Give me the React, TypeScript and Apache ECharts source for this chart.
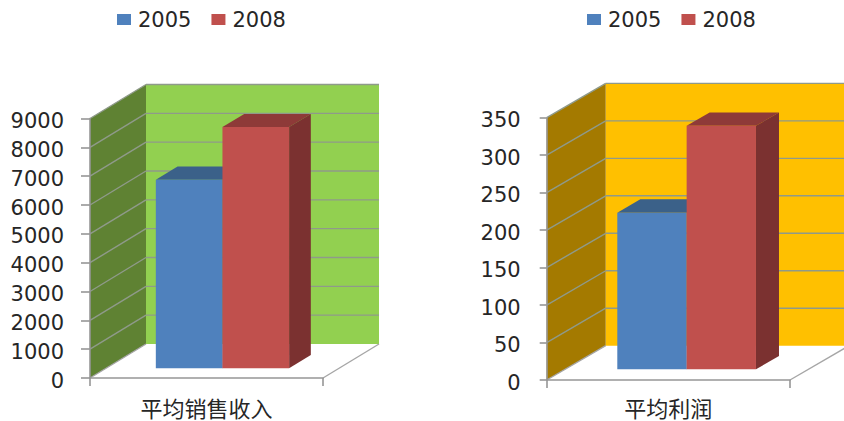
import React, { useEffect, useRef } from "react";
import * as echarts from "echarts";

const seriesNames = ["2005", "2008"];
const salesCategories = ["平均销售收入"];
const sales2005 = [6540];
const sales2008 = [8365];
const salesTicks = [0, 1000, 2000, 3000, 4000, 5000, 6000, 7000, 8000, 9000];
const profitCategories = ["平均利润"];
const profit2005 = [209];
const profit2008 = [325];
const profitTicks = [0, 50, 100, 150, 200, 250, 300, 350];

const BLUE = { front: "#4f81bd", top: "#3b6189", side: "#3b6189" };
const RED = { front: "#c0504d", top: "#8e3a38", side: "#7b3130" };
const GRID_LINE = "#8f9a8a";
const TEXT = "#262626";
const FONT = "'DejaVu Sans', 'Noto Sans CJK SC', sans-serif";

type View = { dx: number; dy: number; front: number; depth: number; barFrac: number };

function wallRenderer(ticks: number[], view: View, back: string, side: string) {
  return (_p: any, api: any) => {
    const band = api.size([1, 0])[0];
    const c0 = api.coord([0, 0]);
    const l = c0[0] - band / 2;
    const r = c0[0] + band / 2;
    const y0 = c0[1];
    const max = ticks[ticks.length - 1];
    const yT = api.coord([0, max])[1];
    const { dx, dy } = view;
    const line = (x1: number, y1: number, x2: number, y2: number, color = GRID_LINE, width = 1.4) => ({
      type: "line",
      shape: { x1, y1, x2, y2 },
      style: { stroke: color, lineWidth: width },
      silent: true,
    });
    const children: any[] = [
      {
        type: "polygon",
        shape: { points: [[l + dx, yT - dy], [r + dx, yT - dy], [r + dx, y0 - dy], [l + dx, y0 - dy]] },
        style: { fill: back },
        silent: true,
      },
      {
        type: "polygon",
        shape: { points: [[l, yT], [l + dx, yT - dy], [l + dx, y0 - dy], [l, y0]] },
        style: { fill: side },
        silent: true,
      },
    ];
    ticks.forEach((t) => {
      const y = api.coord([0, t])[1];
      if (t !== 0) {
        children.push(line(l, y, l + dx, y - dy));
        children.push(line(l + dx, y - dy, r + dx, y - dy));
      }
    });
    children.push(line(l, y0, l + dx, y0 - dy, "#a6a6a6"));
    children.push(line(r, y0, r + dx, y0 - dy, "#a6a6a6"));
    return { type: "group", children };
  };
}

function barRenderer(slot: number, view: View, colors: typeof BLUE) {
  return (_p: any, api: any) => {
    const value = api.value(1);
    const band = api.size([1, 0])[0];
    const base = api.coord([api.value(0), 0]);
    const top = api.coord([api.value(0), value]);
    const width = band * view.barFrac;
    const sx = view.dx * view.front;
    const sy = view.dy * view.front;
    const ox = view.dx * view.depth;
    const oy = view.dy * view.depth;
    const x0 = base[0] + sx - width + slot * width;
    const x1 = x0 + width;
    const yb = base[1] - sy;
    const yt = top[1] - sy;
    return {
      type: "group",
      children: [
        {
          type: "polygon",
          shape: { points: [[x0, yt], [x0 + ox, yt - oy], [x1 + ox, yt - oy], [x1, yt]] },
          style: { fill: colors.top },
        },
        {
          type: "polygon",
          shape: { points: [[x1, yt], [x1 + ox, yt - oy], [x1 + ox, yb - oy], [x1, yb]] },
          style: { fill: colors.side },
        },
        { type: "rect", shape: { x: x0, y: yt, width, height: yb - yt }, style: { fill: colors.front } },
      ],
    };
  };
}

function panelSeries(idx: number, ticks: number[], a: number[], b: number[], view: View, back: string, side: string) {
  const max = ticks[ticks.length - 1];
  return [
    {
      type: "custom",
      name: "wall" + idx,
      xAxisIndex: idx,
      yAxisIndex: idx,
      z: 1,
      silent: true,
      encode: { x: 0, y: 1 },
      data: [[0, max]],
      renderItem: wallRenderer(ticks, view, back, side),
    },
    {
      type: "custom",
      name: seriesNames[0],
      xAxisIndex: idx,
      yAxisIndex: idx,
      z: 2,
      itemStyle: { color: BLUE.front },
      encode: { x: 0, y: 1 },
      data: a.map((v, i) => [i, v]),
      renderItem: barRenderer(0, view, BLUE),
    },
    {
      type: "custom",
      name: seriesNames[1],
      xAxisIndex: idx,
      yAxisIndex: idx,
      z: 3,
      itemStyle: { color: RED.front },
      encode: { x: 0, y: 1 },
      data: b.map((v, i) => [i, v]),
      renderItem: barRenderer(1, view, RED),
    },
  ];
}

const axisLine = { show: true, lineStyle: { color: "#969696", width: 1.6 } };

function yAxisOf(idx: number, ticks: number[], tickLen: number) {
  return {
    type: "value",
    gridIndex: idx,
    min: 0,
    max: ticks[ticks.length - 1],
    interval: ticks[1] - ticks[0],
    z: 5,
    axisLine,
    axisTick: { show: true, length: tickLen, lineStyle: { color: "#969696", width: 1.6 } },
    axisLabel: {
      margin: 26,
      fontSize: 21,
      color: TEXT,
      fontFamily: FONT,
      verticalAlign: "top",
      lineHeight: 5,
      formatter: (v: number) => String(v),
    },
    splitLine: { show: false },
  };
}

function xAxisOf(idx: number, cats: string[], margin: number) {
  return {
    type: "category",
    gridIndex: idx,
    data: cats,
    z: 5,
    axisLine,
    axisTick: { show: true, length: 8, lineStyle: { color: "#969696", width: 1.6 } },
    axisLabel: { margin, fontSize: 22, color: TEXT, fontFamily: FONT },
    splitLine: { show: false },
  };
}

const legendOf = (left: number) => ({
  left,
  top: 9,
  padding: 0,
  icon: "rect",
  itemWidth: 14,
  itemHeight: 11,
  itemGap: 20,
  data: seriesNames,
  selectedMode: false,
  textStyle: { fontSize: 21, color: TEXT, fontFamily: FONT, padding: [0, 0, 0, 2] },
});

export default function App() {
  const ref = useRef<HTMLDivElement>(null);
  useEffect(() => {
    document.body.style.margin = "0";
    const chart = echarts.init(ref.current!, undefined, { renderer: "svg" });
    const leftView: View = { dx: 56, dy: 34, front: 0.285, depth: 0.388, barFrac: 0.286 };
    const rightView: View = { dx: 59, dy: 34.3, front: 0.31, depth: 0.39, barFrac: 0.285 };
    chart.setOption({
      animation: false,
      backgroundColor: "#ffffff",
      legend: [legendOf(117), legendOf(587)],
      grid: [
        { left: 90, top: 118.5, width: 233, height: 259.5, outerBoundsMode: "none" },
        { left: 546.7, top: 117.7, width: 243.3, height: 262.3, outerBoundsMode: "none" },
      ],
      xAxis: [xAxisOf(0, salesCategories, 20), xAxisOf(1, profitCategories, 18)],
      yAxis: [yAxisOf(0, salesTicks, 9), yAxisOf(1, profitTicks, 7)],
      series: [
        ...panelSeries(0, salesTicks, sales2005, sales2008, leftView, "#92d050", "#5f8233"),
        ...panelSeries(1, profitTicks, profit2005, profit2008, rightView, "#ffc000", "#a47a00"),
      ],
    });
    return () => chart.dispose();
  }, []);
  return <div ref={ref} style={{ width: 844, height: 421 }} />;
}
